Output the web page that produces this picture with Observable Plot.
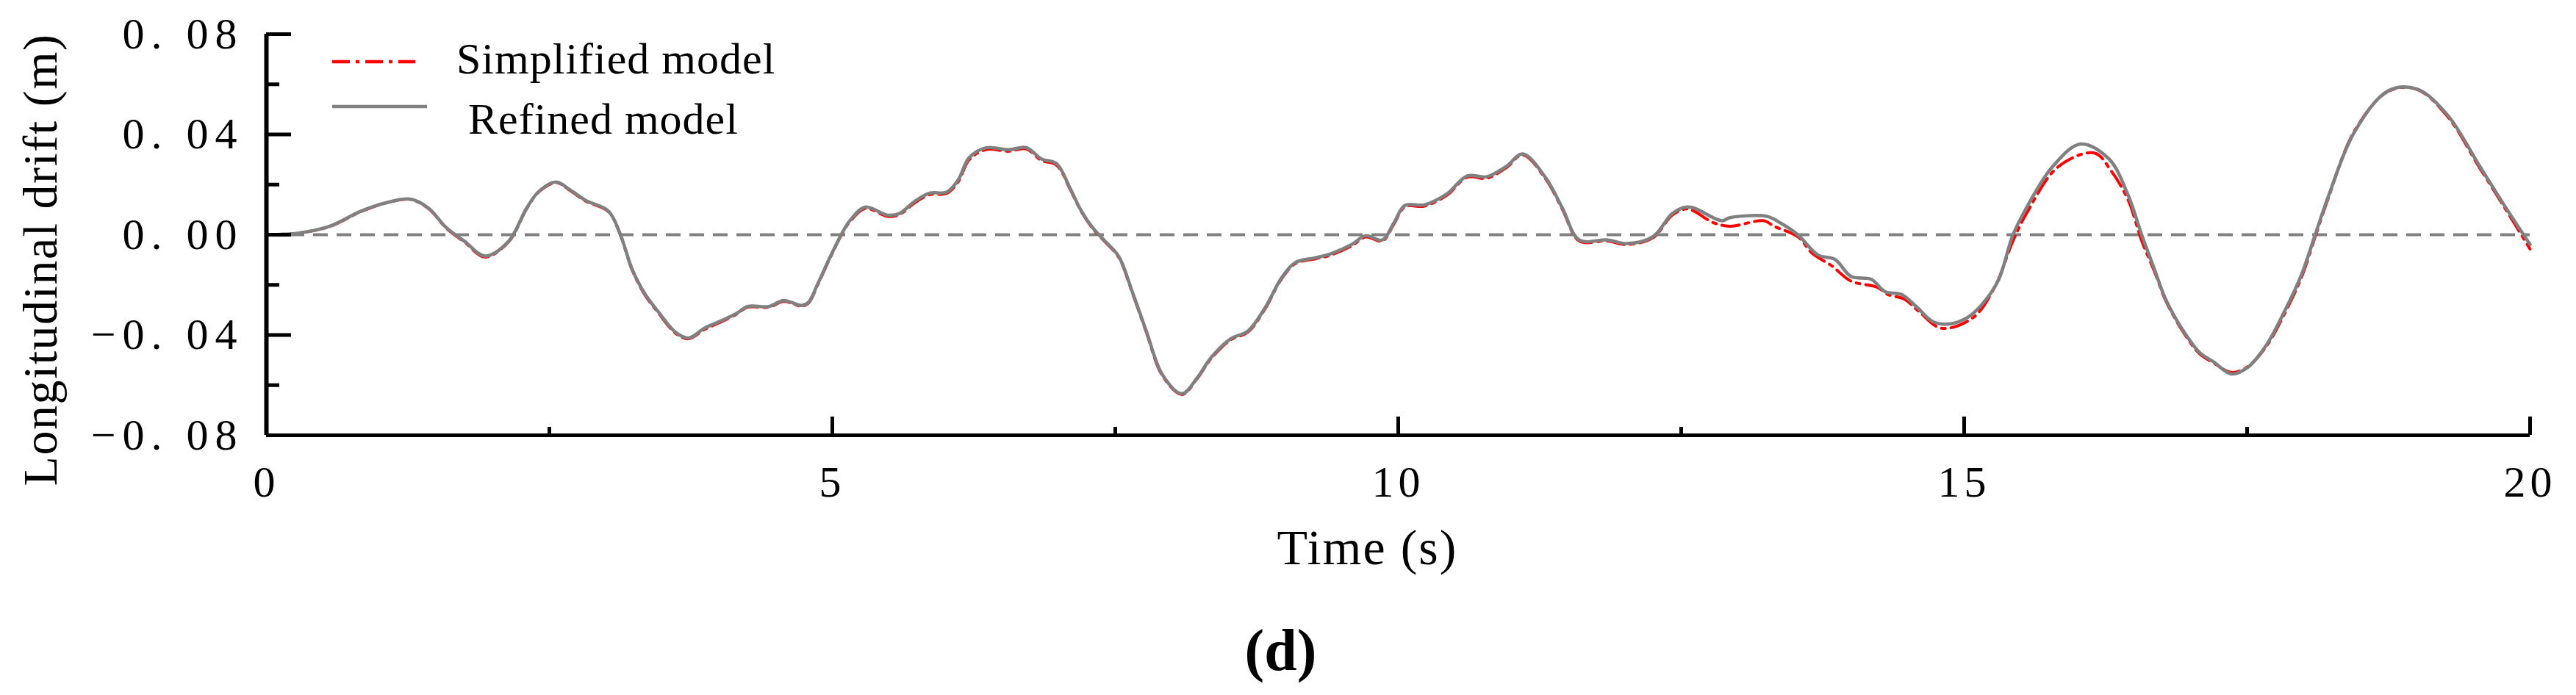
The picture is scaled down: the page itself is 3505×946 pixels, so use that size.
<!DOCTYPE html>
<html><head><meta charset="utf-8">
<script src="https://cdn.jsdelivr.net/npm/d3@7"></script>
<script src="https://cdn.jsdelivr.net/npm/@observablehq/plot@0.6"></script>
<style>
html,body{margin:0;padding:0;background:#fff;}
#wrap{position:relative;width:3505px;height:946px;overflow:hidden;font-family:"Liberation Serif","Times New Roman",serif;}
#legend{position:absolute;left:0;top:0;}
#caption{position:absolute;left:0;top:845px;width:3485px;text-align:center;font-weight:bold;font-size:80px;font-family:"Liberation Serif","Times New Roman",serif;line-height:1;}
</style></head><body>
<div id="wrap"><div id="chart"></div><svg id="legend" width="1200" height="220"></svg><div id="caption"></div></div>
<script>
const refinedTime = [0,0.29,0.56,0.84,1.07,1.27,1.43,1.59,1.75,1.93,2.14,2.30,2.41,2.56,2.68,2.82,3.02,3.12,3.23,3.34,3.46,3.62,3.73,3.87,4.03,4.16,4.25,4.44,4.57,4.73,4.79,4.87,4.97,5.09,5.16,5.29,5.49,5.59,5.73,5.86,6.01,6.11,6.21,6.36,6.56,6.71,6.85,6.98,7.10,7.20,7.30,7.40,7.53,7.65,7.77,7.92,8.09,8.22,8.35,8.52,8.67,8.82,8.97,9.09,9.27,9.41,9.59,9.71,9.86,9.96,10.06,10.23,10.43,10.61,10.78,10.95,11.10,11.30,11.45,11.60,11.85,12.02,12.25,12.42,12.54,12.61,12.86,12.93,13.26,13.38,13.53,13.71,13.86,14.00,14.18,14.30,14.45,14.58,14.73,14.88,15.03,15.15,15.30,15.43,15.55,15.78,16.03,16.28,16.45,16.57,16.68,16.78,16.93,17.08,17.20,17.36,17.50,17.67,17.83,17.98,18.10,18.22,18.45,18.75,19.00,19.27,19.55,19.77,20.00];
const refinedDrift = [0,0.0007,0.0034,0.0095,0.0129,0.0142,0.0107,0.0028,-0.0026,-0.0085,-0.0026,0.0107,0.0174,0.0210,0.0180,0.0137,0.0095,0.0010,-0.0136,-0.0233,-0.0306,-0.0391,-0.0412,-0.0373,-0.0341,-0.0312,-0.0286,-0.0286,-0.0262,-0.0282,-0.0269,-0.0197,-0.0099,0.0010,0.0059,0.0110,0.0078,0.0084,0.0134,0.0166,0.0170,0.0217,0.0308,0.0347,0.0339,0.0348,0.0302,0.0284,0.0186,0.0095,0.0028,-0.0021,-0.0086,-0.0227,-0.0379,-0.0561,-0.0634,-0.0573,-0.0488,-0.0415,-0.0385,-0.0294,-0.0171,-0.0111,-0.0092,-0.0075,-0.0039,-0.0004,-0.0021,0.0046,0.0117,0.0119,0.0163,0.0235,0.0231,0.0271,0.0322,0.0229,0.0107,-0.0021,-0.0021,-0.0035,-0.0008,0.0084,0.0110,0.0107,0.0056,0.0068,0.0073,0.0046,0.0000,-0.0081,-0.0099,-0.0166,-0.0178,-0.0227,-0.0239,-0.0288,-0.0348,-0.0355,-0.0330,-0.0282,-0.0184,-0.0002,0.0107,0.0271,0.0362,0.0302,0.0156,-0.0002,-0.0136,-0.0257,-0.0379,-0.0470,-0.0506,-0.0555,-0.0531,-0.0440,-0.0306,-0.0160,-0.0002,0.0156,0.0411,0.0575,0.0581,0.0478,0.0277,0.0119,-0.0039];
const simplifiedTime = [0,0.29,0.56,0.84,1.07,1.27,1.43,1.59,1.75,1.93,2.14,2.30,2.41,2.56,2.68,2.82,3.02,3.12,3.23,3.34,3.46,3.62,3.73,3.87,4.03,4.16,4.25,4.44,4.57,4.73,4.79,4.87,4.97,5.09,5.16,5.29,5.49,5.59,5.73,5.86,6.01,6.11,6.21,6.36,6.56,6.71,6.85,6.98,7.10,7.20,7.30,7.40,7.53,7.65,7.77,7.92,8.09,8.22,8.35,8.52,8.67,8.82,8.97,9.09,9.27,9.41,9.59,9.71,9.86,9.96,10.06,10.23,10.43,10.61,10.78,10.95,11.10,11.30,11.45,11.60,11.85,12.02,12.25,12.42,12.54,12.61,12.78,12.93,13.23,13.32,13.53,13.66,13.83,14.00,14.23,14.33,14.47,14.60,14.80,15.08,15.27,15.43,15.55,15.83,16.15,16.30,16.45,16.57,16.68,16.78,16.93,17.08,17.20,17.36,17.50,17.67,17.83,17.98,18.10,18.22,18.45,18.75,19.00,19.27,19.55,19.77,20.00];
const simplifiedDrift = [0,0.0007,0.0033,0.0093,0.0128,0.0141,0.0105,0.0026,-0.0029,-0.0089,-0.0028,0.0104,0.0172,0.0208,0.0177,0.0134,0.0093,0.0008,-0.0139,-0.0237,-0.0310,-0.0395,-0.0415,-0.0378,-0.0345,-0.0315,-0.0289,-0.0289,-0.0266,-0.0285,-0.0272,-0.0200,-0.0102,0.0007,0.0055,0.0105,0.0073,0.0080,0.0128,0.0160,0.0165,0.0210,0.0300,0.0340,0.0333,0.0343,0.0296,0.0278,0.0182,0.0092,0.0025,-0.0024,-0.0090,-0.0231,-0.0383,-0.0565,-0.0637,-0.0576,-0.0492,-0.0419,-0.0389,-0.0298,-0.0175,-0.0115,-0.0096,-0.0080,-0.0044,-0.0009,-0.0025,0.0041,0.0112,0.0114,0.0158,0.0230,0.0225,0.0266,0.0318,0.0224,0.0102,-0.0025,-0.0025,-0.0039,-0.0012,0.0078,0.0103,0.0095,0.0049,0.0034,0.0056,0.0034,-0.0008,-0.0075,-0.0124,-0.0185,-0.0209,-0.0239,-0.0256,-0.0306,-0.0373,-0.0330,-0.0209,-0.0026,0.0084,0.0271,0.0326,0.0254,0.0137,-0.0026,-0.0145,-0.0262,-0.0384,-0.0475,-0.0510,-0.0549,-0.0528,-0.0445,-0.0315,-0.0170,-0.0010,0.0150,0.0415,0.0573,0.0580,0.0472,0.0270,0.0112,-0.0057];
const yMajorTicks = [-0.08, -0.04, 0, 0.04, 0.08];
const yMinorTicks = [-0.06, -0.02, 0.02, 0.06];
const xMajorTicks = [0, 5, 10, 15, 20];
const xMinorTicks = [2.5, 7.5, 12.5, 17.5];
const seriesNames = ["Simplified model", "Refined model"];
const seriesColors = ["#ff0000", "#808080"];
const xLabel = "Time (s)";
const yLabel = "Longitudinal drift (m)";
const panelLabel = "(d)";

const FONT = '"Liberation Serif","Times New Roman",serif';
const refined = refinedTime.map((t, i) => ({t, v: refinedDrift[i]}));
const simplified = simplifiedTime.map((t, i) => ({t, v: simplifiedDrift[i]}));
const fmtY = d => (d < 0 ? "\u2212" : "") + Math.abs(d).toFixed(2).replace(".", ". ");
const fmtX = d => String(d);

const chart = Plot.plot({
  width: 3505, height: 800,
  marginLeft: 362, marginRight: 63, marginTop: 46, marginBottom: 208,
  x: {domain: [0, 20]},
  y: {domain: [-0.08, 0.08]},
  style: {fontFamily: FONT, background: "white", color: "black", overflow: "visible"},
  marks: [
    Plot.ruleY([0], {stroke: "#808080", strokeWidth: 4, strokeDasharray: "20,12"}),
    Plot.line(simplified, {x: "t", y: "v", stroke: seriesColors[0], strokeWidth: 4, strokeDasharray: "24,8,5,8", curve: "catmull-rom"}),
    Plot.line(refined, {x: "t", y: "v", stroke: seriesColors[1], strokeWidth: 4.5, curve: "catmull-rom"}),
    Plot.ruleX([0], {stroke: "black", strokeWidth: 6}),
    Plot.ruleY([-0.08], {stroke: "black", strokeWidth: 5}),
    Plot.axisY(yMajorTicks, {tickSize: 0, tickPadding: 31, tickFormat: fmtY, fontSize: 60, label: null}),
    Plot.axisY(yMajorTicks, {tickSize: -34, strokeWidth: 5, fill: "none", label: null}),
    Plot.axisY(yMinorTicks, {tickSize: -18, strokeWidth: 5, fill: "none", label: null}),
    Plot.axisX(xMajorTicks, {tickSize: 0, tickPadding: 41, tickFormat: fmtX, fontSize: 60, label: null}),
    Plot.axisX(xMajorTicks, {tickSize: -25, strokeWidth: 5, fill: "none", label: null}),
    Plot.axisX(xMinorTicks, {tickSize: -11, strokeWidth: 5, fill: "none", label: null}),
    Plot.text([yLabel], {frameAnchor: "left", textAnchor: "middle", rotate: -90, dx: -307, dy: 34, fontSize: 66, text: d => d}),
    Plot.text([xLabel], {frameAnchor: "bottom", textAnchor: "middle", lineAnchor: "top", dx: -42, dy: 127, fontSize: 68, text: d => d})
  ]
});
document.getElementById("chart").appendChild(chart);

const svg = d3.select(chart);
svg.selectAll('g[aria-label="y-axis tick label"] text').style("letter-spacing", "9px");
svg.selectAll('g[aria-label="x-axis tick label"] text').style("letter-spacing", "6px");
svg.selectAll("text").filter(function() { return this.textContent === yLabel; }).style("letter-spacing", "1.5px");
svg.selectAll("text").filter(function() { return this.textContent === xLabel; }).style("letter-spacing", "2px");

// legend
const leg = d3.select("#legend");
const legendRows = [
  {name: seriesNames[0], color: seriesColors[0], dash: "24,8,5,8", x2: 565, ly: 84, tx: 621, ty: 100},
  {name: seriesNames[1], color: seriesColors[1], dash: null, x2: 581, ly: 145, tx: 637, ty: 182}
];
for (const r of legendRows) {
  leg.append("line").attr("x1", 452).attr("x2", r.x2).attr("y1", r.ly).attr("y2", r.ly)
    .attr("stroke", r.color).attr("stroke-width", 4.5).attr("stroke-dasharray", r.dash);
  leg.append("text").attr("x", r.tx).attr("y", r.ty).attr("font-family", FONT)
    .attr("font-size", 60).style("letter-spacing", "1px").text(r.name);
}
document.getElementById("caption").textContent = panelLabel;
</script>
</body></html>
